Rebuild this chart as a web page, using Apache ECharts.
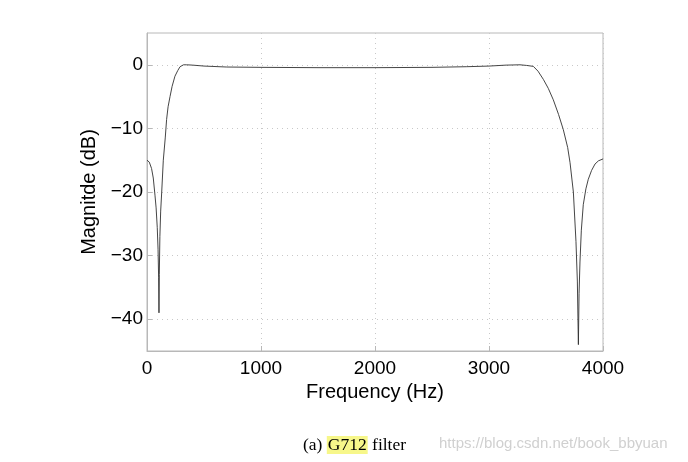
<!DOCTYPE html>
<html>
<head>
<meta charset="utf-8">
<script src="https://cdn.jsdelivr.net/npm/echarts@6/dist/echarts.min.js"></script>
<style>
  html,body{margin:0;padding:0;background:#fff;}
  #chart{width:688px;height:462px;}
</style>
</head>
<body>
<div id="chart"></div>
<script>
// 频率 (Hz)
const freq = [0, 20, 40, 55, 70, 80, 90, 97, 102, 105, 108, 113, 120, 129, 143, 160, 172, 185, 202, 220, 245, 270, 290, 320, 348, 400, 500, 700, 1000, 1500, 2000, 2500, 2800, 3000, 3150, 3272, 3330, 3389, 3430, 3477, 3520, 3564, 3610, 3652, 3690, 3711, 3740, 3763, 3775, 3784, 3790, 3798, 3810, 3827, 3850, 3871, 3900, 3930, 3960, 4000]
// 幅度 (dB)
const mag = [-15, -15.3, -16.3, -17.8, -20.5, -22.5, -25.6, -29, -33.5, -39, -33, -27, -23, -20, -15, -11.5, -8.6, -6.6, -5, -3.4, -1.8, -0.9, -0.3, 0, 0, -0.05, -0.2, -0.35, -0.4, -0.45, -0.45, -0.4, -0.3, -0.2, -0.05, 0, -0.1, -0.25, -1, -2.3, -3.7, -5.5, -7.8, -10.2, -13, -15.4, -20, -27.8, -34, -44, -36, -31, -26, -22, -19.5, -18, -16.6, -15.6, -15.1, -14.8]
const yTicks = [-40, -30, -20, -10, 0]

const chart = echarts.init(document.getElementById('chart'))
const font = 'Liberation Sans, Helvetica, Arial, sans-serif'
const serif = 'Liberation Serif, Times New Roman, serif'

chart.setOption({
  animation: false,
  grid: {
    left: 147, right: 85, top: 33, bottom: 111,
    show: true, borderColor: '#b8b8b8', borderWidth: 1
  },
  xAxis: {
    type: 'value', min: 0, max: 4000, interval: 1000,
    name: 'Frequency (Hz)', nameLocation: 'middle', nameGap: 25,
    nameTextStyle: {fontFamily: font, fontSize: 20, color: '#000'},
    axisLine: {show: true, onZero: false, lineStyle: {color: '#b8b8b8'}},
    axisTick: {show: true, inside: true, length: 5, lineStyle: {color: '#b8b8b8'}},
    axisLabel: {fontFamily: font, fontSize: 19, color: '#000', margin: 8, formatter: v => String(v)},
    splitLine: {show: true, lineStyle: {color: '#c8c8c8', type: [1, 4]}}
  },
  yAxis: {
    type: 'value', min: -45, max: 5,
    name: 'Magnitde (dB)', nameLocation: 'middle', nameGap: 43,
    nameTextStyle: {fontFamily: font, fontSize: 20, color: '#000'},
    axisLine: {show: true, lineStyle: {color: '#b8b8b8'}},
    axisTick: {show: true, inside: true, length: 5, customValues: yTicks, lineStyle: {color: '#b8b8b8'}},
    axisLabel: {
      fontFamily: font, fontSize: 19, color: '#000', margin: 4, customValues: yTicks,
      formatter: v => String(v).replace('-', '\u2212')
    },
    splitLine: {show: true, lineStyle: {color: '#c8c8c8', type: [1, 4]}}
  },
  series: [{
    type: 'line',
    data: freq.map((f, i) => [f, mag[i]]),
    showSymbol: false,
    lineStyle: {color: '#303030', width: 0.9}
  }],
  graphic: [
    {
      type: 'text', left: 303, top: 436,
      style: {
        rich: {
          s: {fontFamily: serif, fontSize: 17.5, fill: '#000'},
          h: {fontFamily: serif, fontSize: 17.5, fill: '#000', backgroundColor: '#f7f78a', padding: [0, 1]}
        },
        text: '{s|(a) }{h|G712}{s| filter}'
      }
    },
    {
      type: 'text', left: 439, top: 436,
      style: {text: 'https://blog.csdn.net/book_bbyuan', fontFamily: font, fontSize: 15, fill: '#d0d0d0'}
    }
  ]
})
</script>
</body>
</html>
